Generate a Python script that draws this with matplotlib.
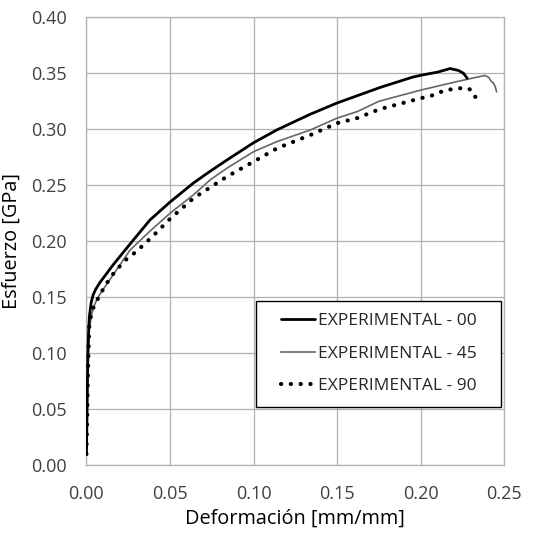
import matplotlib
matplotlib.use("Agg")
import matplotlib.pyplot as plt
from matplotlib.patches import Rectangle

plt.rcParams['font.family'] = ['Open Sans', 'DejaVu Sans']

# Data
strain_00 = [0.0, 0.0003, 0.0006, 0.0009, 0.0013, 0.0018, 0.0028, 0.0040, 0.0055, 0.0080,
             0.012, 0.016, 0.022, 0.028, 0.038, 0.050, 0.064, 0.074, 0.084, 0.100, 0.114,
             0.134, 0.150, 0.176, 0.195, 0.201, 0.210, 0.2175, 0.2225, 0.2255, 0.2277]
stress_00 = [0.010, 0.040, 0.075, 0.100, 0.120, 0.133, 0.145, 0.152, 0.157, 0.163,
             0.171, 0.179, 0.190, 0.201, 0.219, 0.235, 0.252, 0.2625, 0.2725, 0.288, 0.2995,
             0.3135, 0.3235, 0.3375, 0.3465, 0.3485, 0.351, 0.3542, 0.3525, 0.350, 0.3456]

strain_45 = [0.0, 0.0004, 0.0008, 0.0012, 0.0018, 0.003, 0.0045, 0.0065, 0.010, 0.016,
             0.026, 0.038, 0.050, 0.064, 0.074, 0.084, 0.100, 0.114, 0.134, 0.150, 0.162,
             0.175, 0.200, 0.220, 0.232, 0.2383, 0.2405, 0.2420, 0.2435, 0.2445, 0.2453]
stress_45 = [0.010, 0.045, 0.080, 0.105, 0.122, 0.134, 0.142, 0.149, 0.157, 0.170,
             0.192, 0.209, 0.225, 0.2414, 0.2548, 0.2652, 0.280, 0.289, 0.2994, 0.310, 0.3158,
             0.325, 0.335, 0.342, 0.346, 0.348, 0.3465, 0.343, 0.341, 0.338, 0.3336]

strain_90 = [0.0, 0.0004, 0.0008, 0.0012, 0.0017, 0.003, 0.005, 0.007, 0.011, 0.017,
             0.024, 0.030, 0.040, 0.050, 0.064, 0.084, 0.100, 0.114, 0.134, 0.150, 0.162,
             0.1755, 0.200, 0.2064, 0.2114, 0.2154, 0.2194, 0.2234, 0.2283, 0.2313, 0.2334]
stress_90 = [0.010, 0.040, 0.075, 0.100, 0.124, 0.136, 0.144, 0.149, 0.160, 0.173,
             0.184, 0.191, 0.205, 0.220, 0.2384, 0.2577, 0.2711, 0.283, 0.2949, 0.3055, 0.3100,
             0.318, 0.3277, 0.330, 0.333, 0.3353, 0.3357, 0.3366, 0.3366, 0.3336, 0.326]

labels = ["EXPERIMENTAL - 00", "EXPERIMENTAL - 45", "EXPERIMENTAL - 90"]
x_ticks = [0.00, 0.05, 0.10, 0.15, 0.20, 0.25]
y_ticks = [0.00, 0.05, 0.10, 0.15, 0.20, 0.25, 0.30, 0.35, 0.40]

fig = plt.figure(figsize=(5.54, 5.36), dpi=100)
ax = fig.add_axes([0.156, 0.132, 0.7545, 0.8358])

grid_c = '#b0b0b0'
ax.plot(strain_00, stress_00, color='black', lw=2.0, label=labels[0], zorder=4,
        solid_capstyle='round', solid_joinstyle='round')
ax.plot(strain_45, stress_45, color='#666666', lw=1.2, label=labels[1], zorder=3)
ax.plot(strain_90, stress_90, color='black', lw=3.0, linestyle=(0, (0.05, 2.3)),
        dash_capstyle='round', label=labels[2], zorder=3)

ax.set_xlim(0, 0.25)
ax.set_ylim(0, 0.40)
ax.set_xticks(x_ticks)
ax.set_yticks(y_ticks)
ax.set_xticklabels([f"{v:.2f}" for v in x_ticks])
ax.set_yticklabels([f"{v:.2f}" for v in y_ticks])
ax.tick_params(length=0, pad=14, labelsize=13, colors='#404040')
ax.grid(True, color=grid_c, lw=0.9)
ax.set_axisbelow(True)
for s in ax.spines.values():
    s.set_color(grid_c)
    s.set_linewidth(0.9)

ax.set_xlabel("Deformación [mm/mm]", fontsize=14.3, labelpad=4, color='black')
ax.set_ylabel("Esfuerzo [GPa]", fontsize=14.3, labelpad=7, color='black')

# legend frame
rect = Rectangle((0.4055, 0.131), 0.5875, 0.236, transform=ax.transAxes,
                 facecolor='white', edgecolor='black', lw=1.0, zorder=5)
ax.add_patch(rect)
leg = ax.legend(loc='center', bbox_to_anchor=(0.4055 + 0.5875 / 2, 0.131 + 0.236 / 2),
                frameon=False, fontsize=12.5, handlelength=2.0, handletextpad=0.15,
                labelspacing=0.95, borderpad=0.3)
leg.set_zorder(6)
for t in leg.get_texts():
    t.set_color('#262626')

fig.savefig("out.png", dpi=100, facecolor='white')
